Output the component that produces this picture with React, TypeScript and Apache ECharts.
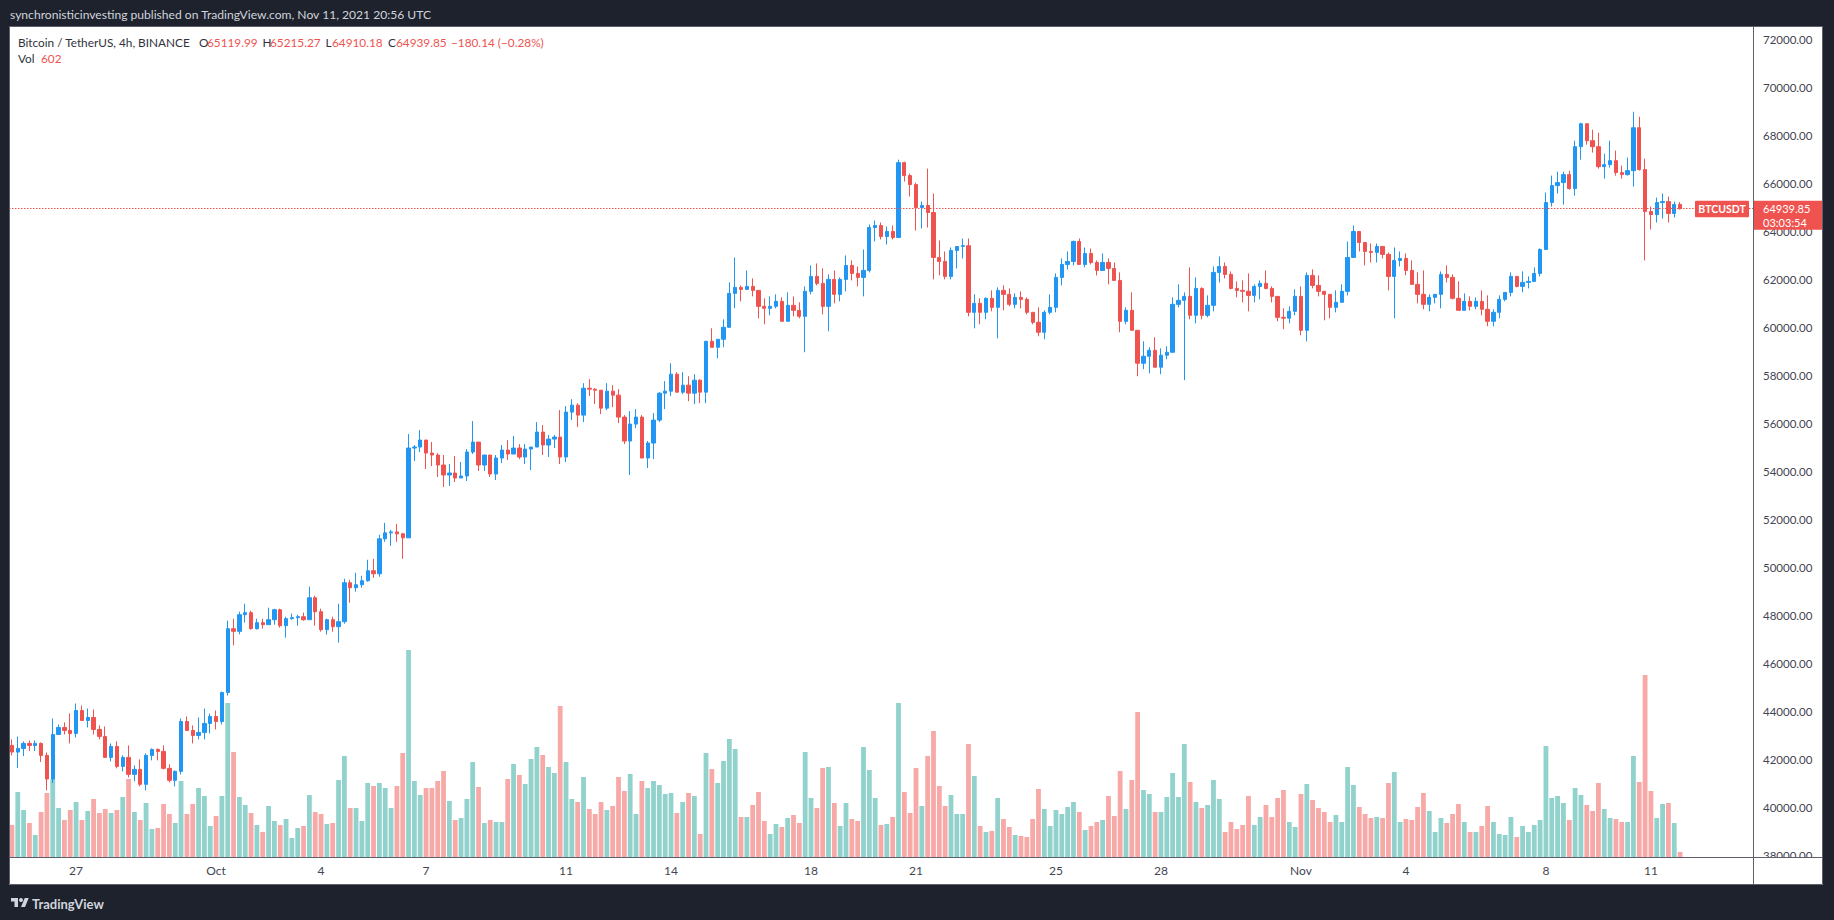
import React, { useEffect, useRef } from "react";
import * as echarts from "echarts";

// ---------- data (BTCUSDT, 4h, Binance) ----------
const START_UTC = Date.UTC(2021, 8, 25, 4, 0); // first candle open time
const STEP_MS = 4 * 3600 * 1000;
const SLOT_COUNT = 299; // candles + empty space on the right
const FIRST_OPEN = 42578;

const closes = [
  42301, 42453, 42661, 42578, 42661, 42162, 41178, 43035, 43327, 43202,
  43077, 44033, 43618, 43742, 43243, 42952, 42079, 42536, 41705, 42079,
  41372, 41580, 40957, 42162, 42412, 42329, 41622, 41123, 41497, 43576,
  43202, 42994, 43119, 43493, 43784, 43576, 44782, 47443, 47332, 48025,
  48109, 47443, 47693, 47610, 47817, 48233, 47568, 47859, 47900, 47942,
  47817, 48732, 48150, 47402, 47817, 47526, 47734, 49356, 49148, 49273,
  49439, 49855, 49730, 51186, 51435, 51476, 51394, 51227, 54969, 55011,
  55302, 54761, 54678, 54262, 53846, 53929, 53721, 53805, 54802, 55218,
  54262, 54678, 53888, 54553, 54886, 54719, 54969, 54595, 54927, 55010,
  55634, 55094, 55343, 55426, 54595, 56466, 56757, 56341, 57463, 57421,
  57380, 56632, 57339, 57172, 56258, 55260, 55967, 56258, 54553, 55177,
  56133, 57255, 57339, 58046, 57297, 57588, 57256, 57796, 57298, 59418,
  59168, 59501, 60000, 61414, 61663, 61580, 61705, 61538, 60873, 60790,
  60873, 61081, 60250, 60915, 60707, 60458, 61497, 62121, 61830, 60873,
  61996, 61372, 61996, 62578, 62246, 62079, 62370, 64158, 64241, 63784,
  63992, 63742, 66861, 66320, 65946, 64990, 65073, 64782, 62911, 62745,
  62121, 63202, 63368, 63400, 60624, 60998, 60624, 61206, 60831, 61538,
  61372, 60956, 61247, 61164, 60624, 60208, 59792, 60624, 60831, 62079,
  62619, 62744, 63576, 62619, 63077, 62702, 62370, 62702, 62453, 61954,
  60249, 60707, 59875, 58503, 58794, 59043, 58337, 58836, 58960, 60956,
  61122, 61289, 60499, 61621, 60499, 60915, 62287, 62536, 62204, 61621,
  61538, 61500, 61330, 61704, 61829, 61621, 61289, 60416, 60380, 60665,
  61289, 59875, 62162, 61746, 61497, 61372, 60832, 61040, 61497, 62911,
  63992, 63534, 63160, 63120, 63368, 63036, 62121, 62786, 62869, 62370,
  61788, 61372, 60956, 61247, 61372, 62204, 62079, 61206, 60707, 61081,
  60873, 61081, 60749, 60250, 60624, 61164, 61455, 62121, 61705, 61871,
  61913, 62246, 63243, 65197, 65904, 66029, 66362, 65780, 67526, 68482,
  67776, 67526, 66694, 66777, 66944, 66445, 66362, 66528, 68316, 66570,
  64823, 64698, 65197, 65239, 64740, 65119.99, 64939.85,
];

const highs = [
  42828, 42952, 42744, 42786, 42786, 42703, 42287, 43701, 43451, 43534,
  43909, 44324, 44241, 44116, 44075, 43410, 43368, 42661, 42744, 42162,
  42578, 41746, 41996, 42245, 42453, 42453, 42578, 41788, 41539, 43701,
  43784, 43410, 43743, 44116, 43909, 44033, 44823, 47776, 47859, 48150,
  48483, 48192, 47859, 47859, 48317, 48275, 48275, 47942, 48067, 48025,
  48109, 49190, 48816, 48275, 47859, 47942, 48483, 49522, 49481, 49772,
  49647, 50312, 50354, 51352, 51851, 51560, 51809, 51435, 55551, 55094,
  55718, 55302, 55218, 54761, 54678, 54304, 54636, 54387, 54927, 56091,
  55218, 54678, 54678, 54678, 55094, 55301, 55468, 55135, 55135, 55010,
  56050, 55925, 55510, 55510, 56549, 56715, 57006, 56840, 57671, 57838,
  57463, 57380, 57671, 57588, 57422, 56341, 56507, 56590, 56341, 55260,
  56424, 57297, 57755, 58503, 58129, 58129, 57963, 58046, 57838, 59418,
  59959, 59501, 60333, 61871, 62911, 61746, 62370, 62038, 61538, 61206,
  61289, 61372, 61248, 61456, 61289, 61040, 61705, 62578, 62661, 62453,
  62204, 62370, 62079, 62994, 62786, 62537, 63243, 64283, 64449, 64366,
  64200, 64241, 66986, 66903, 66404, 66029, 65239, 66611, 65572, 63618,
  63160, 63326, 63368, 63700, 63700, 61372, 61206, 61247, 61538, 61663,
  61746, 61621, 61414, 61497, 61247, 60624, 60831, 60707, 61372, 62245,
  62869, 63160, 63617, 63700, 63326, 63285, 62786, 63077, 62869, 62702,
  62287, 60831, 61455, 59875, 59418, 59168, 59584, 59126, 59210, 61247,
  61788, 61455, 62495, 62079, 61663, 61330, 62536, 62952, 62702, 62328,
  61912, 61954, 62245, 61788, 61954, 62370, 61704, 61289, 60790, 60873,
  61580, 61704, 62287, 62412, 62162, 61497, 61372, 61538, 61788, 63576,
  64241, 63992, 63534, 63493, 63493, 63368, 63119, 63327, 63160, 63077,
  62786, 62287, 62370, 61372, 61372, 62329, 62578, 62204, 61913, 61414,
  61289, 61248, 61538, 61331, 60749, 61331, 61455, 62287, 62121, 62329,
  62121, 62495, 63285, 65613, 66320, 66486, 66486, 66528, 67775, 68524,
  68482, 68233, 68108, 67235, 67775, 67360, 66736, 67069, 68981, 68773,
  67027, 65031, 65405, 65572, 65447, 65239, 65215.27,
];

const lows = [
  42162, 41636, 42135, 42343, 42343, 41885, 40707, 41012, 43035, 43035,
  42661, 42911, 43618, 43327, 43035, 42828, 42079, 41913, 41622, 41497,
  41247, 41081, 40873, 40707, 41954, 41954, 41580, 41040, 40873, 41372,
  43202, 42661, 42828, 42828, 43077, 43243, 43451, 44657, 46750, 47208,
  47693, 47402, 47402, 47443, 47610, 47610, 47485, 47069, 47817, 47568,
  47776, 47817, 47568, 47319, 47194, 47319, 46861, 47651, 48524, 48982,
  49148, 49400, 49564, 49606, 51061, 50894, 51061, 50354, 51227, 54429,
  54803, 54096, 54220, 53763, 53347, 53389, 53555, 53721, 53597, 54719,
  54012, 54012, 53763, 53638, 54345, 54470, 54719, 54511, 54304, 54054,
  55010, 54678, 54595, 54969, 54304, 54387, 56133, 55842, 56050, 57131,
  56798, 56383, 56549, 56674, 56008, 55135, 53846, 55800, 54553, 54137,
  54511, 56050, 56590, 57131, 57297, 57214, 56923, 56798, 56840, 56840,
  59168, 58711, 59168, 60000, 60790, 61081, 61580, 61289, 60374, 60125,
  60499, 60790, 60250, 60250, 60458, 60374, 58961, 61372, 61746, 60541,
  59834, 61002, 61081, 61497, 61954, 61705, 61289, 62287, 63576, 63659,
  63451, 63659, 63742, 66071, 65447, 64033, 64117, 64158, 61996, 62163,
  61996, 61996, 62453, 62869, 60457, 59958, 60125, 60333, 60665, 59542,
  60707, 60873, 60790, 60790, 60541, 60125, 59626, 59501, 60541, 60624,
  61746, 62411, 62578, 62619, 62495, 62619, 62162, 62370, 61788, 61954,
  59792, 60125, 59875, 57963, 58254, 58087, 58337, 58046, 58669, 58960,
  60832, 57797, 60333, 60166, 60333, 60416, 60665, 61871, 62037, 61580,
  61247, 61039, 60665, 61039, 61164, 61580, 61039, 60249, 59917, 60166,
  60499, 59667, 59418, 61622, 61289, 60291, 60374, 60624, 61040, 61331,
  62911, 63160, 62578, 62703, 62703, 62869, 61538, 60374, 62536, 62162,
  61788, 60998, 60749, 60665, 60998, 60790, 61871, 61164, 60707, 60707,
  60707, 60749, 60499, 60042, 60042, 60374, 61081, 61289, 61663, 61455,
  61622, 61913, 62121, 63243, 65031, 65572, 65114, 65738, 65488, 66985,
  67609, 67277, 66611, 66196, 66653, 66320, 66196, 66320, 65863, 66528,
  62786, 64075, 64366, 64532, 64366, 64574, 64910.18,
];

const volumes = [
  3840, 7800, 5640, 4080, 2640, 5400, 7680, 9360, 5880, 4440,
  5640, 6600, 4440, 5520, 6960, 5280, 5760, 5280, 5640, 7200,
  9360, 5400, 4440, 6480, 3360, 3480, 6360, 5160, 4080, 9120,
  5160, 6360, 8280, 7320, 3720, 4920, 7320, 18480, 12600, 7200,
  6240, 5280, 3840, 3000, 6120, 4320, 3840, 4560, 2280, 3480,
  3720, 7440, 5400, 5160, 3960, 4080, 9240, 12120, 5880, 5880,
  4320, 8880, 8520, 8880, 8280, 5880, 8520, 12480, 24840, 9120,
  7440, 8280, 8280, 9120, 10320, 6720, 4440, 4680, 6960, 11400,
  8400, 4080, 4440, 4200, 4200, 9360, 11160, 9840, 8760, 11760,
  13200, 12240, 10800, 10080, 18120, 11400, 6960, 6600, 9600, 5760,
  5160, 6600, 5640, 6120, 9600, 7920, 9960, 5160, 9120, 8280,
  9120, 8640, 7560, 7680, 5280, 6600, 7680, 7320, 2760, 12480,
  10560, 8880, 11520, 14160, 12960, 4800, 4800, 6240, 7800, 4320,
  2760, 3960, 3600, 4680, 5040, 4080, 12600, 7080, 5880, 10680,
  10800, 6480, 3720, 6480, 4560, 4320, 13200, 10440, 7080, 3840,
  3960, 4800, 18480, 7800, 5280, 10680, 6120, 12120, 15120, 8520,
  6120, 7440, 5160, 5160, 13560, 9720, 3720, 3000, 3120, 7080,
  4560, 3600, 2640, 2520, 2400, 4560, 8160, 5760, 3720, 5640,
  5160, 6000, 6600, 5400, 3240, 3720, 4200, 4440, 7320, 4920,
  10320, 5760, 9240, 17400, 8040, 7560, 5400, 5400, 7200, 10080,
  7200, 13560, 9000, 6600, 5880, 6240, 9240, 6960, 3000, 4200,
  3360, 3840, 7320, 3840, 4800, 6240, 4800, 7080, 8040, 4200,
  3600, 7560, 8760, 6840, 5880, 5400, 4200, 5040, 4200, 10800,
  8640, 6000, 5160, 4680, 4800, 4680, 8880, 10200, 4200, 4560,
  4440, 6000, 7680, 5520, 3000, 4680, 4080, 5160, 6360, 4200,
  3000, 3000, 3720, 6120, 4200, 2760, 2640, 4800, 2400, 3720,
  3000, 3840, 4440, 13320, 7080, 7320, 6480, 4440, 8280, 7440,
  6240, 5520, 8880, 5760, 4680, 4560, 4200, 4200, 12120, 9000,
  21840, 7920, 4680, 6360, 6480, 4080, 602,
];

const tickDates = [
  "2021-09-27", "2021-10-01", "2021-10-04", "2021-10-07", "2021-10-11",
  "2021-10-14", "2021-10-18", "2021-10-21", "2021-10-25", "2021-10-28",
  "2021-11-01", "2021-11-04", "2021-11-08", "2021-11-11",
];
const tickLabels = ["27", "Oct", "4", "7", "11", "14", "18", "21", "25", "28", "Nov", "4", "8", "11"];

const PRICE_MIN = 38000;
const PRICE_MAX = 72000;
const PRICE_STEP = 2000;

const HEADER_TEXT = "synchronisticinvesting published on TradingView.com, Nov 11, 2021 20:56 UTC";
const SYMBOL_TITLE = "Bitcoin / TetherUS, 4h, BINANCE";
const LAST_OPEN = "65119.99";
const LAST_HIGH = "65215.27";
const LAST_LOW = "64910.18";
const LAST_CLOSE_TXT = "64939.85";
const LAST_CHANGE = "\u2212180.14 (\u22120.28%)";
const LAST_VOL = "602";
const SYMBOL_TAG = "BTCUSDT";
const COUNTDOWN = "03:03:54";

// ---------- styling ----------
const FONT = "Lato, 'Liberation Sans', sans-serif";
const UP = "#2196f3";
const DOWN = "#ef5350";
const VOL_UP = "#92d2cc";
const VOL_DOWN = "#f7a9a7";
const DARK = "#1e222d";
const TEXT = "#2f323c";
const BORDER = "#5d606b";
const LEGEND_SIZE = 11.8;

const TV_LOGO_PATH = "M14 22H7V11H0V4h14v18zM28 22h-8l7.5-18h8L28 22z";
let logoReady = false;
function ensureLogo() {
  if (logoReady) return;
  echarts.graphic.registerShape("tvlogo", echarts.graphic.extendPath(TV_LOGO_PATH, {}) as any);
  logoReady = true;
}

function buildOption() {
  const categories = Array.from({ length: SLOT_COUNT }, (_, i) =>
    new Date(START_UTC + i * STEP_MS).toISOString().slice(0, 16)
  );
  const tickMap = new Map<string, string>();
  tickDates.forEach((d, k) => tickMap.set(d + "T00:00", tickLabels[k]));

  const opens = closes.map((_, i) => (i === 0 ? FIRST_OPEN : closes[i - 1]));
  const candleData = closes.map((c, i) => {
    const o = opens[i];
    return [o, c, Math.min(lows[i], o, c), Math.max(highs[i], o, c)];
  });
  const volData = volumes.map((v, i) => ({
    value: v,
    itemStyle: { color: closes[i] >= opens[i] ? VOL_UP : VOL_DOWN },
  }));
  const maxVol = Math.max(...volumes);
  const lastClose = closes[closes.length - 1];

  return {
    animation: false,
    backgroundColor: "#ffffff",
    textStyle: { fontFamily: FONT },
    grid: [
      { left: 9, right: 81, top: 39.3, bottom: 64.7 },
      { left: 9, right: 81, top: 650, bottom: 63 },
    ],
    xAxis: [
      {
        type: "category",
        gridIndex: 0,
        data: categories,
        boundaryGap: true,
        show: false,
      },
      {
        type: "category",
        gridIndex: 1,
        data: categories,
        boundaryGap: true,
        axisLine: { show: false },
        axisTick: { show: false },
        splitLine: { show: false },
        axisLabel: {
          interval: (_idx: number, value: string) => tickMap.has(value),
          formatter: (value: string) => tickMap.get(value) ?? "",
          color: "#434651",
          fontSize: 12,
          fontFamily: FONT,
          margin: 7,
        },
      },
    ],
    yAxis: [
      {
        type: "value",
        gridIndex: 0,
        position: "right",
        min: PRICE_MIN,
        max: PRICE_MAX,
        interval: PRICE_STEP,
        axisLine: { show: false },
        axisTick: { show: false },
        splitLine: { show: false },
        axisLabel: {
          formatter: (v: number) => v.toFixed(2),
          margin: 10,
          color: "#434651",
          fontSize: 11.5,
          fontFamily: FONT,
        },
      },
      {
        type: "value",
        gridIndex: 1,
        min: 0,
        max: maxVol,
        show: false,
        splitLine: { show: false },
      },
    ],
    series: [
      {
        type: "bar",
        xAxisIndex: 1,
        yAxisIndex: 1,
        data: volData,
        barWidth: 4.8,
        z: 1,
        silent: true,
      },
      {
        type: "candlestick",
        xAxisIndex: 0,
        yAxisIndex: 0,
        data: candleData,
        barWidth: 3.8,
        z: 3,
        itemStyle: {
          color: UP,
          color0: DOWN,
          borderColor: UP,
          borderColor0: DOWN,
          borderWidth: 1,
        },
        markLine: {
          silent: true,
          symbol: ["none", "none"],
          label: { show: false },
          lineStyle: { color: DOWN, type: [1.5, 1.5], width: 1 },
          data: [{ yAxis: lastClose }],
        },
      },
    ],
  };
}

function txt(x: number, y: number, t: string, fill: string, size: number, extra: any = {}) {
  return {
    type: "text",
    x,
    y,
    z: 110,
    silent: true,
    style: {
      text: t,
      fill,
      fontSize: size,
      fontFamily: FONT,
      align: "left",
      textAlign: "left",
      verticalAlign: "middle",
      textVerticalAlign: "middle",
      ...extra,
    },
  };
}

function buildGraphics(py: number) {
  const els: any[] = [];
  // dark frame around the white chart panel
  els.push({ type: "rect", z: 100, silent: true, shape: { x: 0, y: 0, width: 1834, height: 26.5 }, style: { fill: DARK } });
  els.push({ type: "rect", z: 100, silent: true, shape: { x: 0, y: 0, width: 9, height: 920 }, style: { fill: DARK } });
  els.push({ type: "rect", z: 100, silent: true, shape: { x: 1823, y: 0, width: 11, height: 920 }, style: { fill: DARK } });
  els.push({ type: "rect", z: 100, silent: true, shape: { x: 0, y: 885, width: 1834, height: 35 }, style: { fill: DARK } });
  // white cover under the price scale in the time-axis row
  els.push({ type: "rect", z: 100, silent: true, shape: { x: 1754, y: 858, width: 68, height: 26 }, style: { fill: "#ffffff" } });
  // borders
  els.push({ type: "rect", z: 101, silent: true, shape: { x: 9.5, y: 26.5, width: 1813, height: 858 }, style: { fill: "none", stroke: BORDER, lineWidth: 1 } });
  els.push({ type: "line", z: 101, silent: true, shape: { x1: 1753.5, y1: 27, x2: 1753.5, y2: 884 }, style: { stroke: BORDER, lineWidth: 1 } });
  els.push({ type: "line", z: 101, silent: true, shape: { x1: 10, y1: 857.5, x2: 1822, y2: 857.5 }, style: { stroke: BORDER, lineWidth: 1 } });

  // header
  els.push(txt(10, 14.5, HEADER_TEXT, "#d1d4dc", 12.1));

  // legend
  els.push(txt(18, 42, SYMBOL_TITLE, TEXT, LEGEND_SIZE));
  els.push(txt(199, 42, "O", TEXT, LEGEND_SIZE));
  els.push(txt(207, 42, LAST_OPEN, DOWN, LEGEND_SIZE));
  els.push(txt(262.5, 42, "H", TEXT, LEGEND_SIZE));
  els.push(txt(270, 42, LAST_HIGH, DOWN, LEGEND_SIZE));
  els.push(txt(325.5, 42, "L", TEXT, LEGEND_SIZE));
  els.push(txt(332, 42, LAST_LOW, DOWN, LEGEND_SIZE));
  els.push(txt(388, 42, "C", TEXT, LEGEND_SIZE));
  els.push(txt(396, 42, LAST_CLOSE_TXT, DOWN, LEGEND_SIZE));
  els.push(txt(451, 42, LAST_CHANGE, DOWN, LEGEND_SIZE));
  els.push(txt(18, 58.5, "Vol", TEXT, LEGEND_SIZE));
  els.push(txt(41, 58.5, LAST_VOL, DOWN, LEGEND_SIZE));

  // last price tags
  els.push({ type: "rect", z: 105, silent: true, shape: { x: 1695, y: py - 8, width: 54, height: 16.5, r: 1 }, style: { fill: DOWN } });
  els.push(txt(1722, py + 0.5, SYMBOL_TAG, "#ffffff", 10.5, { align: "center", textAlign: "center", fontWeight: "bold" }));
  els.push({ type: "rect", z: 105, silent: true, shape: { x: 1754, y: py - 8, width: 68, height: 29 }, style: { fill: DOWN } });
  els.push(txt(1763, py, LAST_CLOSE_TXT, "#ffffff", 11));
  els.push(txt(1763, py + 13.5, COUNTDOWN, "#ffffff", 11));

  // TradingView logo
  els.push({ type: "tvlogo", z: 110, silent: true, x: 11, y: 896, scaleX: 0.5, scaleY: 0.5, style: { fill: "#d1d4dc" } });
  els.push({ type: "circle", z: 110, silent: true, shape: { cx: 11 + 20 * 0.5, cy: 896 + 8 * 0.5, r: 4 * 0.5 }, style: { fill: "#d1d4dc" } });
  els.push(txt(32, 903.5, "TradingView", "#d1d4dc", 13, { fontWeight: "bold" }));
  return els;
}

export default function App() {
  const ref = useRef<HTMLDivElement>(null);
  useEffect(() => {
    document.body.style.margin = "0";
    ensureLogo();
    const chart = echarts.init(ref.current as HTMLDivElement, undefined, {
      renderer: "svg",
      width: 1834,
      height: 920,
    });
    chart.setOption(buildOption() as any);
    const py = chart.convertToPixel({ yAxisIndex: 0 }, closes[closes.length - 1]) as number;
    chart.setOption({ graphic: { elements: buildGraphics(py) } } as any);
    return () => chart.dispose();
  }, []);
  return <div ref={ref} style={{ width: 1834, height: 920 }} />;
}
